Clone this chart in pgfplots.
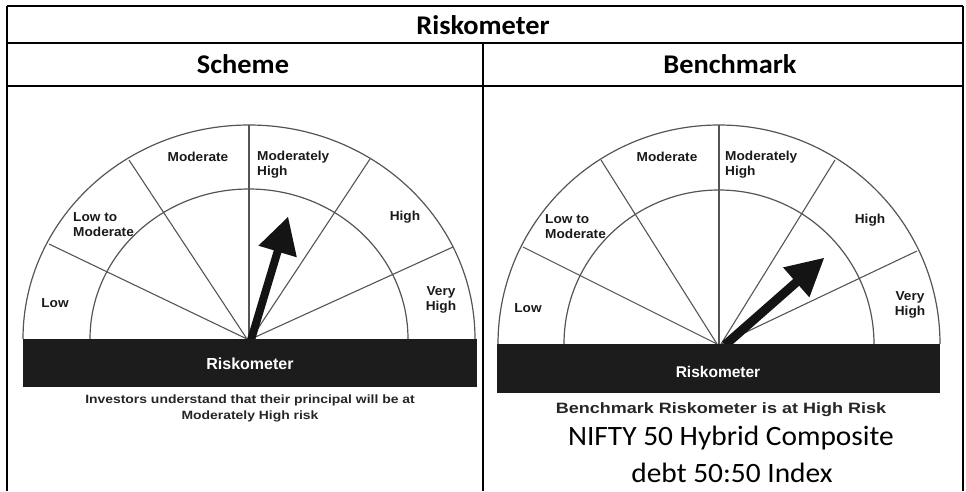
\documentclass[border=0pt]{standalone}
\usepackage{pgfplots}
\pgfplotsset{compat=1.18}
\usepackage{fontspec}
\setmainfont{Carlito}
\newfontfamily\carlitow[FakeStretch=1.05]{Carlito}
\newfontfamily\arialf{Liberation Sans}
\newfontfamily\ariallab[FakeStretch=1.05]{Liberation Sans}
\newfontfamily\arialcap[FakeStretch=1.16]{Liberation Sans}
\newfontfamily\arialbm[FakeStretch=1.2]{Liberation Sans}
\definecolor{spk}{HTML}{555555}
\definecolor{barc}{HTML}{1C1C1C}
\begin{document}
\begin{tikzpicture}[
  lab/.style={font=\ariallab\bfseries\fontsize{13bp}{15bp}\selectfont, text=black!90, inner sep=0pt},
  captxt/.style={font=\arialcap\bfseries\fontsize{12bp}{16bp}\selectfont, text=black!85, inner sep=0pt},
  hdr/.style={font=\carlitow\bfseries\fontsize{27bp}{30bp}\selectfont, inner sep=0pt}
]
\begin{axis}[width=966bp,height=491bp,scale only axis,
  xmin=0,xmax=966,ymin=0,ymax=491,y dir=reverse,
  hide axis,clip=false,no markers]
\path (axis cs:0,0) rectangle (axis cs:966,491);

% ---------- table rules ----------
\addplot[black,line width=1.6bp] coordinates {(7,6) (963,6)};
\addplot[black,line width=1.6bp] coordinates {(7,43) (963,43)};
\addplot[black,line width=1.6bp] coordinates {(7,86) (963,86)};
\addplot[black,line width=1.6bp] coordinates {(7,6) (7,491)};
\addplot[black,line width=1.6bp] coordinates {(963,6) (963,491)};
\addplot[black,line width=1.6bp] coordinates {(483,43) (483,491)};

\node[hdr] at (axis cs:483,25) {Riskometer};
\node[hdr] at (axis cs:243,64) {Scheme};
\node[hdr] at (axis cs:730,64) {Benchmark};

% ---------- left gauge (Scheme) ----------
\draw[spk,line width=1.2bp] (axis cs:23,339) arc[start angle=180,end angle=0,x radius=226bp,y radius=214bp];
\draw[spk,line width=1.2bp] (axis cs:90,339) arc[start angle=180,end angle=0,x radius=159bp,y radius=150bp];
\addplot[spk,line width=1.1bp] coordinates {(247,339) (49,244)};
\addplot[spk,line width=1.1bp] coordinates {(247,339) (129,160)};
\addplot[spk,line width=1.1bp] coordinates {(249,339) (249,125)};
\addplot[spk,line width=1.1bp] coordinates {(251,339) (370,159)};
\addplot[spk,line width=1.1bp] coordinates {(251,339) (453,247)};
% needle: Moderately High
\addplot[fill=black!92,draw=none] coordinates {(247.2,338.8) (273.8,250.3) (258.4,245.7) (288,217) (296.8,257.3) (281.4,252.7) (254.8,341.2)} -- cycle;
\addplot[fill=barc,draw=none] coordinates {(23,339) (477,339) (477,387) (23,387)} -- cycle;
\node[font=\arialf\bfseries\fontsize{16bp}{18bp}\selectfont,text=white,inner sep=0pt] at (axis cs:250,364) {Riskometer};

\node[lab] at (axis cs:198,157) {Moderate};
\node[lab,align=left,anchor=west] at (axis cs:257,164.5) {Moderately\\High};
\node[lab,align=left,anchor=west] at (axis cs:73,225) {Low to\\Moderate};
\node[lab] at (axis cs:405,217) {High};
\node[lab,align=center] at (axis cs:441,300) {Very\\High};
\node[lab] at (axis cs:55,303) {Low};

\node[captxt,align=center] at (axis cs:250,408.5) {Investors understand that their principal will be at\\Moderately High risk};

% ---------- right gauge (Benchmark) ----------
\draw[spk,line width=1.2bp] (axis cs:498,344) arc[start angle=180,end angle=0,x radius=221bp,y radius=219bp];
\draw[spk,line width=1.2bp] (axis cs:564,344) arc[start angle=180,end angle=0,x radius=155bp,y radius=154bp];
\addplot[spk,line width=1.1bp] coordinates {(717,344) (523,247)};
\addplot[spk,line width=1.1bp] coordinates {(717,344) (601,160)};
\addplot[spk,line width=1.1bp] coordinates {(719,344) (719,125)};
\addplot[spk,line width=1.1bp] coordinates {(721,344) (835,160)};
\addplot[spk,line width=1.1bp] coordinates {(721,344) (917,251)};
% needle: High
\addplot[fill=black!92,draw=none] coordinates {(722,341.6) (793.2,279.0) (783,267.4) (824,258) (809.4,297.4) (799.2,285.8) (728,348.4)} -- cycle;
\addplot[fill=barc,draw=none] coordinates {(497,344) (940,344) (940,393) (497,393)} -- cycle;
\node[font=\arialf\bfseries\fontsize{15.5bp}{18bp}\selectfont,text=white,inner sep=0pt] at (axis cs:718,372) {Riskometer};

\node[lab] at (axis cs:667,157) {Moderate};
\node[lab,align=left,anchor=west] at (axis cs:725,164.5) {Moderately\\High};
\node[lab,align=left,anchor=west] at (axis cs:545,227) {Low to\\Moderate};
\node[lab] at (axis cs:870,220) {High};
\node[lab,align=center] at (axis cs:910,304.5) {Very\\High};
\node[lab] at (axis cs:528,308) {Low};

\node[font=\arialbm\bfseries\fontsize{15bp}{17bp}\selectfont,text=black!85,inner sep=0pt] at (axis cs:721,410) {Benchmark Riskometer is at High Risk};
\node[font=\carlitow\fontsize{28bp}{30bp}\selectfont,inner sep=0pt] at (axis cs:731,438) {NIFTY 50 Hybrid Composite};
\node[font=\carlitow\fontsize{28bp}{30bp}\selectfont,inner sep=0pt] at (axis cs:732,473) {debt 50:50 Index};
\end{axis}
\end{tikzpicture}
\end{document}
